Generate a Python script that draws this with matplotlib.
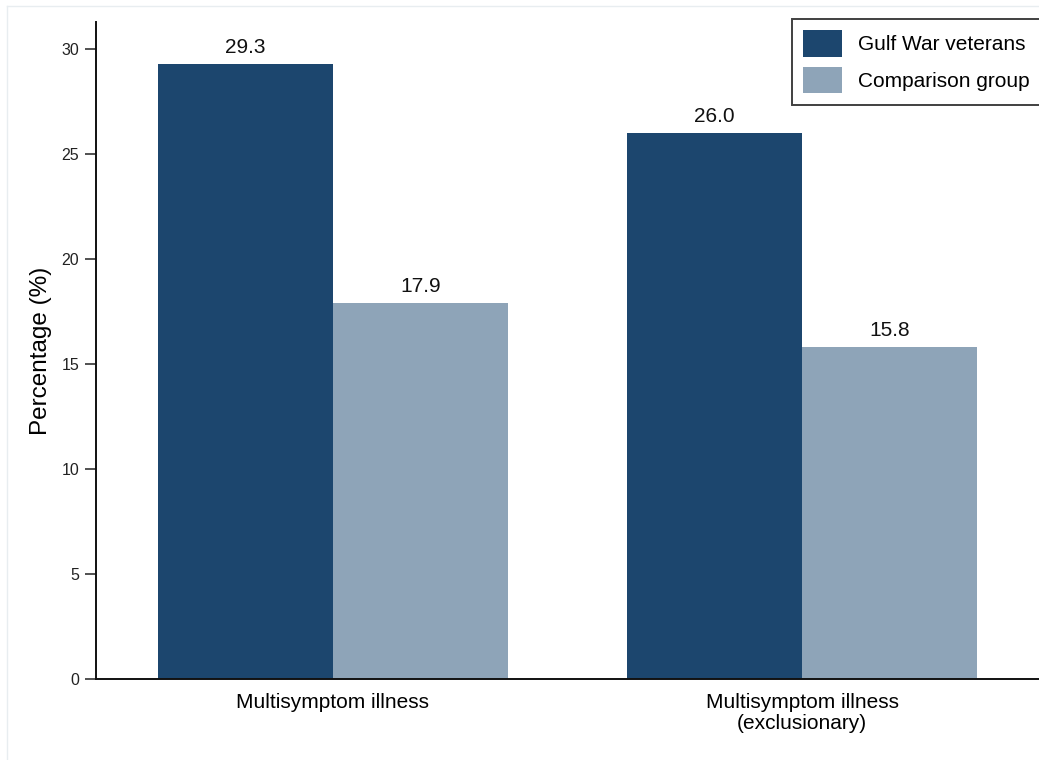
import matplotlib
matplotlib.use("Agg")
import matplotlib.pyplot as plt
import numpy as np
from matplotlib.lines import Line2D

plt.rcParams['font.family'] = ['Liberation Sans', 'DejaVu Sans']

# data
categories = ["Multisymptom illness", "Multisymptom illness\n(exclusionary)"]
series_names = ["Gulf War veterans", "Comparison group"]
gulf_war = [29.3, 26.0]
comparison = [17.9, 15.8]
colors = ["#1c466e", "#8ea4b8"]

W, H = 1039, 760
fig = plt.figure(figsize=(W / 100, H / 100), dpi=100)
ax = fig.add_axes([96 / W, 81 / H, 943 / W, 657 / H])

x = np.arange(len(categories))
width = 0.373
b1 = ax.bar(x - width / 2, gulf_war, width, color=colors[0], label=series_names[0])
b2 = ax.bar(x + width / 2, comparison, width, color=colors[1], label=series_names[1])

for bars, vals in ((b1, gulf_war), (b2, comparison)):
    for rect, v in zip(bars, vals):
        ax.annotate("%.1f" % v, (rect.get_x() + rect.get_width() / 2, v),
                    xytext=(0, 5), textcoords="offset points",
                    ha="center", va="bottom", fontsize=15, color="#111111")

ax.set_xlim(-0.505, 1.505)
ax.set_ylim(0, 31.29)
ax.set_yticks([0, 5, 10, 15, 20, 25, 30])
ax.tick_params(axis="y", length=8, width=1.1, pad=4, labelsize=11.5, colors="#222222")
ax.tick_params(axis="x", length=0, pad=10, labelsize=15)
ax.set_xticks(x)
ax.set_xticklabels(categories, linespacing=1.15)
ax.set_ylabel("Percentage (%)", fontsize=17.5, labelpad=7)

for s in ("top", "right"):
    ax.spines[s].set_visible(False)
for s in ("left", "bottom"):
    ax.spines[s].set_linewidth(1.4)
    ax.spines[s].set_color("#111111")

leg = ax.legend(loc="upper left", bbox_to_anchor=((792 - 96) / 943, (679 - 19) / 657),
                fontsize=15, frameon=True, fancybox=False, edgecolor="#111111",
                handlelength=1.83, handleheight=1.55, handletextpad=0.8,
                borderpad=0.55, labelspacing=0.5, borderaxespad=0)
leg.get_frame().set_linewidth(1.4)

# faint frame around the picture
fig.add_artist(Line2D([7 / W, 7 / W], [0, 1 - 6 / H], transform=fig.transFigure,
                      color="#e8edf0", lw=1))
fig.add_artist(Line2D([7 / W, 1], [1 - 6 / H, 1 - 6 / H], transform=fig.transFigure,
                      color="#e8edf0", lw=1))

fig.savefig("out.png", dpi=100)
